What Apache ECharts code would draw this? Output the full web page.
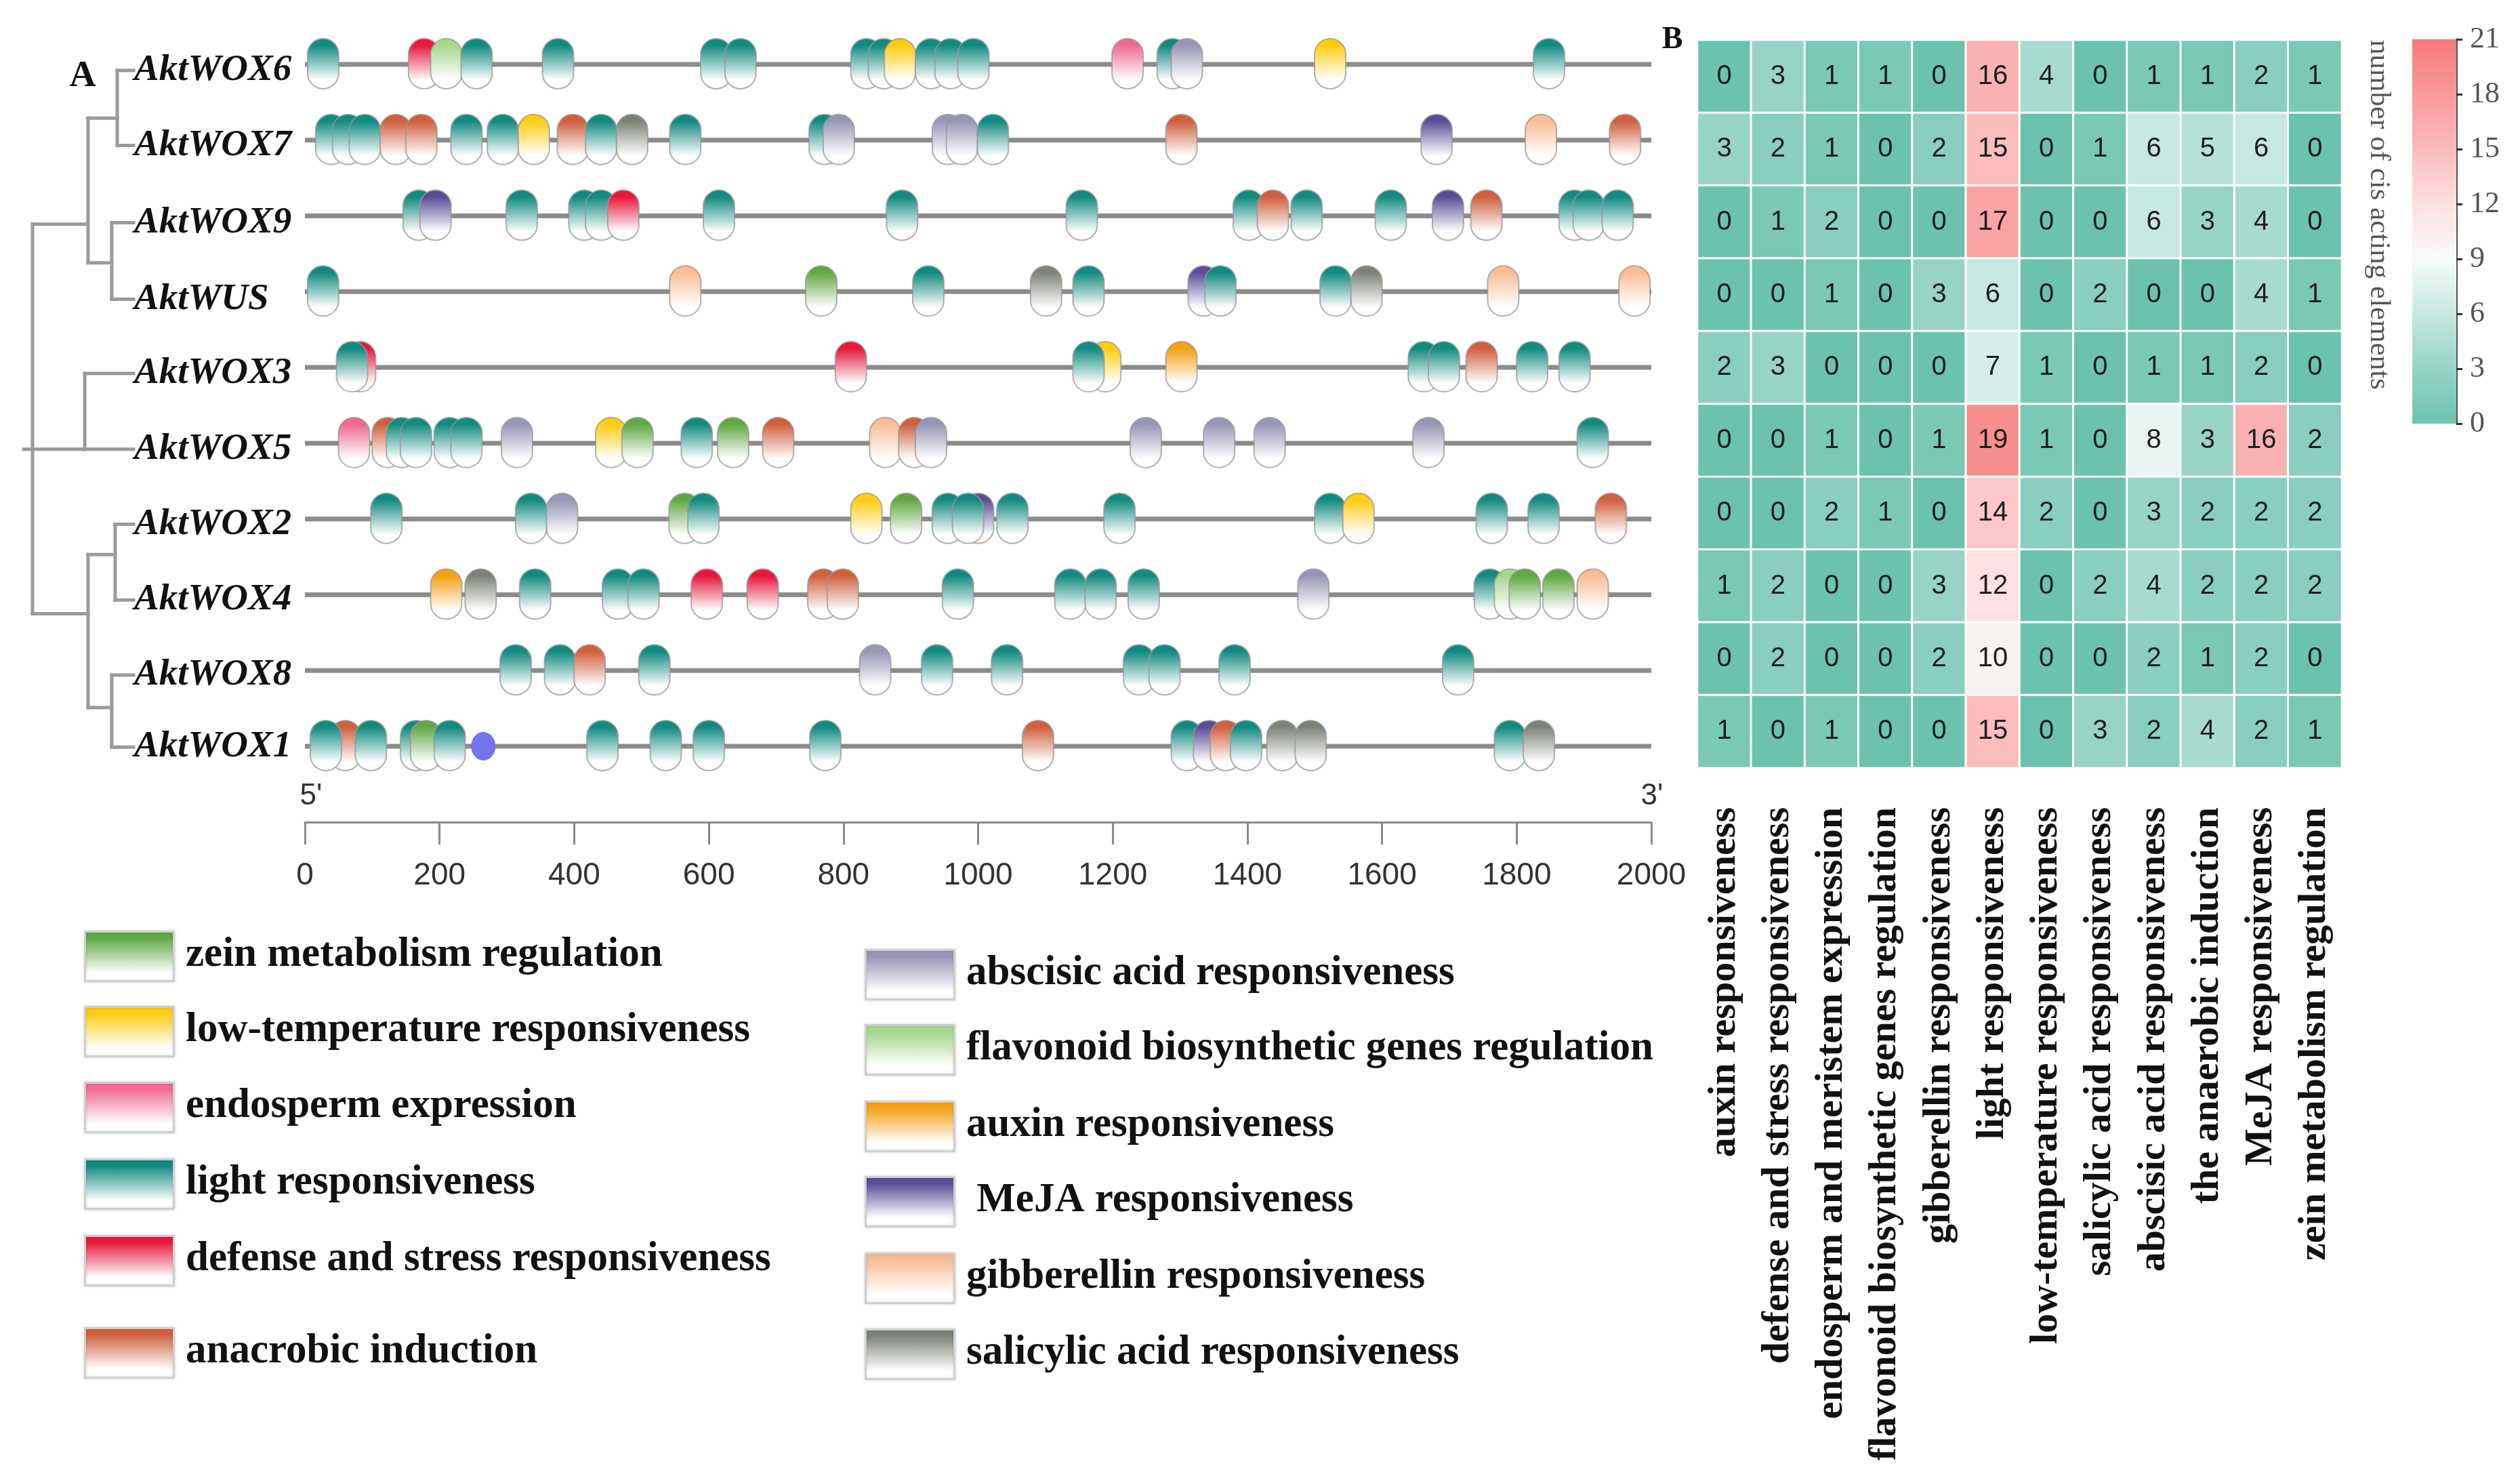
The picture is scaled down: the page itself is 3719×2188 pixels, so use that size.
<!DOCTYPE html>
<html><head><meta charset="utf-8">
<script src="https://cdn.jsdelivr.net/npm/echarts@6/dist/echarts.min.js"></script>
<style>html,body{margin:0;padding:0;background:#fff}#c{width:3719px;height:2188px}</style>
</head><body><div id="c"></div>
<script>
// ---------------- DATA ----------------
const genes = ['AktWOX6','AktWOX7','AktWOX9','AktWUS','AktWOX3','AktWOX5','AktWOX2','AktWOX4','AktWOX8','AktWOX1'];
const promoterLength = 2000;
const axisTickStep = 200;

const typeKeys  = ['zein','lowT','endo','light','def','anae','aba','flav','aux','meja','ga','sa'];
const typeNames = ['zein metabolism regulation','low-temperature responsiveness','endosperm expression','light responsiveness','defense and stress responsiveness','anacrobic induction','abscisic acid responsiveness','flavonoid biosynthetic genes regulation','auxin responsiveness',' MeJA responsiveness','gibberellin responsiveness','salicylic acid responsiveness'];
const typeColors = ['#5fa843','#ffcc12','#ef6a92','#118a7f','#e6173b','#d05f3d','#9896b6','#a6d78c','#f4a114','#5a4d97','#f8bd96','#7c8376'];

// motif positions (bp from 5') and element type
const motifsWOX6 = [[27,'light'],[177,'def'],[210,'flav'],[255,'light'],[376,'light'],[611,'light'],[647,'light'],[834,'light'],[860,'light'],[884,'lowT'],[930,'light'],[959,'light'],[993,'light'],[1222,'endo'],[1289,'light'],[1310,'aba'],[1523,'lowT'],[1848,'light']];
const motifsWOX7 = [[39,'light'],[64,'light'],[89,'light'],[135,'anae'],[173,'anae'],[240,'light'],[294,'light'],[340,'lowT'],[398,'anae'],[440,'light'],[486,'sa'],[565,'light'],[772,'light'],[793,'aba'],[955,'aba'],[976,'aba'],[1022,'light'],[1302,'anae'],[1681,'meja'],[1836,'ga'],[1961,'anae']];
const motifsWOX9 = [[169,'light'],[194,'meja'],[322,'light'],[415,'light'],[440,'light'],[473,'def'],[615,'light'],[887,'light'],[1154,'light'],[1402,'light'],[1438,'anae'],[1488,'light'],[1613,'light'],[1698,'meja'],[1755,'anae'],[1886,'light'],[1907,'light'],[1950,'light']];
const motifsWUS  = [[27,'light'],[565,'ga'],[767,'zein'],[926,'light'],[1101,'sa'],[1164,'light'],[1335,'meja'],[1360,'light'],[1531,'light'],[1577,'sa'],[1780,'ga'],[1975,'ga']];
const motifsWOX3 = [[82,'def'],[70,'light'],[811,'def'],[1189,'lowT'],[1164,'light'],[1302,'aux'],[1662,'light'],[1692,'light'],[1748,'anae'],[1823,'light'],[1886,'light']];
const motifsWOX5 = [[73,'endo'],[123,'anae'],[144,'light'],[165,'light'],[215,'light'],[240,'light'],[315,'aba'],[455,'lowT'],[494,'zein'],[582,'light'],[636,'zein'],[703,'anae'],[862,'ga'],[905,'anae'],[930,'aba'],[1249,'aba'],[1358,'aba'],[1433,'aba'],[1669,'aba'],[1913,'light']];
const motifsWOX2 = [[121,'light'],[336,'light'],[382,'aba'],[564,'zein'],[592,'light'],[834,'lowT'],[893,'zein'],[1000,'meja'],[955,'light'],[985,'light'],[1051,'light'],[1210,'light'],[1523,'light'],[1565,'lowT'],[1763,'light'],[1840,'light'],[1940,'anae']];
const motifsWOX4 = [[210,'aux'],[261,'sa'],[342,'light'],[465,'light'],[503,'light'],[597,'def'],[680,'def'],[770,'anae'],[799,'anae'],[970,'light'],[1137,'light'],[1182,'light'],[1246,'light'],[1498,'aba'],[1760,'light'],[1790,'flav'],[1812,'zein'],[1862,'zein'],[1913,'ga']];
const motifsWOX8 = [[313,'light'],[379,'light'],[423,'anae'],[519,'light'],[847,'aba'],[939,'light'],[1043,'light'],[1239,'light'],[1277,'light'],[1381,'light'],[1713,'light']];
const motifsWOX1 = [[60,'anae'],[31,'light'],[98,'light'],[165,'light'],[180,'zein'],[215,'light'],[442,'light'],[536,'light'],[600,'light'],[773,'light'],[1089,'anae'],[1310,'light'],[1343,'meja'],[1368,'anae'],[1398,'light'],[1452,'sa'],[1494,'sa'],[1790,'light'],[1833,'sa']];
const geneMotifs = [motifsWOX6,motifsWOX7,motifsWOX9,motifsWUS,motifsWOX3,motifsWOX5,motifsWOX2,motifsWOX4,motifsWOX8,motifsWOX1];
// unlabeled blue site: [gene row, bp]
const otherSites = [[9,265]];

// phylogenetic tree: [id, parent, depth(0..1), y in row units]
const treeNodes = [
  ['root',null,0.08,5.08],
  ['A','root',0.586,2.11],['A1','A',0.852,0.71],['A2','A',0.802,2.62],
  ['B','root',0.556,5.08],
  ['C','root',0.586,7.25],['C1','C',0.833,6.47],['C2','C',0.802,8.49],
  ['AktWOX6','A1',1,0.08],['AktWOX7','A1',1,1.07],['AktWOX9','A2',1,2.09],['AktWUS','A2',1,3.10],
  ['AktWOX3','B',1,4.08],['AktWOX5','B',1,5.08],['AktWOX2','C1',1,6.07],['AktWOX4','C1',1,7.07],
  ['AktWOX8','C2',1,8.06],['AktWOX1','C2',1,9.01]
];

// heatmap
const cisLabels = ['auxin responsiveness','defense and stress responsiveness','endosperm and meristem expression','flavonoid biosynthetic genes regulation','gibberellin responsiveness','light responsiveness','low-temperature responsiveness','salicylic acid responsiveness','abscisic acid responsiveness','the anaerobic induction','MeJA responsiveness','zein metabolism regulation'];
const cisCounts = [
  [0,3,1,1,0,16,4,0,1,1,2,1],
  [3,2,1,0,2,15,0,1,6,5,6,0],
  [0,1,2,0,0,17,0,0,6,3,4,0],
  [0,0,1,0,3,6,0,2,0,0,4,1],
  [2,3,0,0,0,7,1,0,1,1,2,0],
  [0,0,1,0,1,19,1,0,8,3,16,2],
  [0,0,2,1,0,14,2,0,3,2,2,2],
  [1,2,0,0,3,12,0,2,4,2,2,2],
  [0,2,0,0,2,10,0,0,2,1,2,0],
  [1,0,1,0,0,15,0,3,2,4,2,1]
];
const scaleMin = 0, scaleMax = 21, scaleStep = 3;
const scaleColors = ['#6cc3ad','#97d4c6','#c6e8e0','#f6fbfa','#fde0e0','#fbbcbc','#f89a9a','#f67a7a'];

// ---------------- BUILD ----------------
const SERIF = '"Liberation Serif","Times New Roman",serif';
const SANS = '"Liberation Sans",Arial,sans-serif';
const chart = echarts.init(document.getElementById('c'));

const motifData = [];
geneMotifs.forEach((list, r) => list.forEach(m => motifData.push([m[0], r, typeKeys.indexOf(m[1])])));
const backboneData = genes.map((g, r) => [0, r, promoterLength]);
const heatData = [];
cisCounts.forEach((row, r) => row.forEach((v, c) => heatData.push([c, r, v])));

const nodeMap = {};
treeNodes.forEach(n => nodeMap[n[0]] = {id:n[0], parent:n[1], depth:n[2], y:n[3], kids:[]});
treeNodes.forEach(n => { if (n[1]) nodeMap[n[1]].kids.push(nodeMap[n[0]]); });
const treeList = treeNodes.map(n => nodeMap[n[0]]);

function grad(c){
  return new echarts.graphic.LinearGradient(0,0,0,1,[
    {offset:0,color:c},{offset:0.14,color:c},{offset:0.82,color:'#ffffff'},{offset:1,color:'#ffffff'}]);
}

function renderBackbone(params, api){
  const a = api.coord([api.value(0), api.value(1)]);
  const b = api.coord([api.value(2), api.value(1)]);
  return {type:'rect', shape:{x:a[0], y:a[1]-3.5, width:b[0]-a[0], height:7}, style:{fill:'#8c8c8c'}};
}
function renderMotif(params, api){
  const p = api.coord([api.value(0), api.value(1)]);
  const c = typeColors[api.value(2)];
  const w = 46, h = 74;
  return {type:'rect', shape:{x:p[0]-w/2, y:p[1]-38, width:w, height:h, r:w/2},
    style:{fill:grad(c), stroke:'rgba(150,150,150,0.75)', lineWidth:2}};
}
function renderSite(params, api){
  const p = api.coord([api.value(1), api.value(0)]);
  return {type:'ellipse', shape:{cx:p[0], cy:p[1], rx:18, ry:21}, style:{fill:'#7474ee'}};
}
function renderTree(params, api){
  const n = treeList[params.dataIndex];
  const kids = [];
  const st = {stroke:'#9a9a9a', lineWidth:5, lineCap:'square'};
  const p2 = api.coord([n.depth, n.y]);
  const pd = n.parent ? nodeMap[n.parent].depth : 0;
  const p1 = api.coord([pd, n.y]);
  kids.push({type:'line', shape:{x1:p1[0],y1:p1[1],x2:p2[0],y2:p2[1]}, style:st});
  if (n.kids.length){
    const ys = n.kids.map(k=>k.y).concat([n.y]);
    const a = api.coord([n.depth, Math.min.apply(null,ys)]);
    const b = api.coord([n.depth, Math.max.apply(null,ys)]);
    kids.push({type:'line', shape:{x1:a[0],y1:a[1],x2:b[0],y2:b[1]}, style:st});
  } else {
    kids.push({type:'text', x:p2[0]+1, y:p2[1], style:{text:n.id, font:'italic bold 55px '+SERIF, fill:'#111', align:'left', verticalAlign:'middle'}});
  }
  return {type:'group', children:kids};
}
function renderScale(params, api){
  const cs = params.coordSys;
  const t = api.coord([0, api.value(2)]);
  const b = api.coord([0, api.value(1)]);
  const n = scaleColors.length - 1;
  const stops = scaleColors.map((c,i)=>({offset:1 - i/n, color:c})).reverse();
  return {type:'rect', shape:{x:cs.x, y:t[1], width:cs.width, height:b[1]-t[1]},
    style:{fill:new echarts.graphic.LinearGradient(0,0,0,1,stops)}};
}

// legend graphics
const legendTops = [[1373,1484,1596,1709,1822,1958],[1400,1511,1624,1735,1848,1960]];
const legendX = [124,1276];
const graphics = [];
typeNames.forEach((name,i)=>{
  const col = i<6?0:1, row = i%6;
  const x = legendX[col], y = legendTops[col][row];
  graphics.push({type:'rect', left:x, top:y, shape:{width:131,height:73},
    style:{fill:grad(typeColors[i]), stroke:'#cfcfcf', lineWidth:3, shadowBlur:4, shadowColor:'rgba(0,0,0,0.15)'}});
  graphics.push({type:'text', x:x+150, y:y+36, style:{text:name, font:'bold 61px '+SERIF, fill:'#111', align:'left', verticalAlign:'middle'}});
});
graphics.push({type:'text', x:122, y:113, style:{text:'A', font:'bold 54px '+SERIF, fill:'#111', align:'center', verticalAlign:'middle'}});
graphics.push({type:'text', x:2468, y:59, style:{text:'B', font:'bold 46px '+SERIF, fill:'#111', align:'center', verticalAlign:'middle'}});
graphics.push({type:'text', x:459, y:1175, style:{text:"5'", font:'44px '+SANS, fill:'#333', align:'center', verticalAlign:'middle'}});
graphics.push({type:'text', x:2438, y:1175, style:{text:"3'", font:'44px '+SANS, fill:'#333', align:'center', verticalAlign:'middle'}});
graphics.push({type:'text', x:3510, y:317, rotation:-Math.PI/2, style:{text:'number of cis acting elements', font:'43px '+SERIF, fill:'#555', align:'center', verticalAlign:'middle'}});

const option = {
  backgroundColor:'#fff',
  animation:false,
  grid:[
    {left:450, top:39.1, width:1987, height:1117.8},
    {left:35, top:39.1, width:162, height:1117.8},
    {left:2505, top:59, width:951, height:1074},
    {left:3560, top:58, width:65, height:567}
  ],
  xAxis:[
    {gridIndex:0, type:'value', min:0, max:promoterLength, interval:axisTickStep, offset:56, position:'bottom',
      axisLine:{show:true, onZero:false, lineStyle:{color:'#8a8a8a', width:3}},
      axisTick:{show:true, length:33, lineStyle:{color:'#8a8a8a', width:3}},
      axisLabel:{margin:56, fontFamily:SANS, fontSize:46, color:'#333', formatter:v=>String(v)},
      splitLine:{show:false}},
    {gridIndex:1, type:'value', min:0, max:1, show:false},
    {gridIndex:2, type:'category', data:cisLabels, position:'bottom',
      axisLine:{show:false}, axisTick:{show:false},
      axisLabel:{interval:0, rotate:90, margin:58, fontFamily:SERIF, fontWeight:'bold', fontSize:58, color:'#111'}},
    {gridIndex:3, type:'category', data:['scale'], show:false}
  ],
  yAxis:[
    {gridIndex:0, type:'value', min:-0.5, max:9.5, inverse:true, show:false},
    {gridIndex:1, type:'value', min:-0.5, max:9.5, inverse:true, show:false},
    {gridIndex:2, type:'category', data:genes, inverse:true, show:false},
    {gridIndex:3, type:'value', min:scaleMin, max:scaleMax, interval:scaleStep, position:'right',
      axisLine:{show:true, onZero:false, lineStyle:{color:'#555', width:3}},
      axisTick:{show:true, length:9, lineStyle:{color:'#333', width:3}},
      axisLabel:{margin:20, fontFamily:SERIF, fontSize:44, color:'#555'},
      splitLine:{show:false}}
  ],
  visualMap:[{type:'continuous', show:false, min:scaleMin, max:scaleMax, seriesIndex:4, dimension:2, inRange:{color:scaleColors}}],
  graphic:graphics,
  series:[
    {type:'custom', xAxisIndex:0, yAxisIndex:0, renderItem:renderBackbone, data:backboneData, clip:false, silent:true},
    {type:'custom', xAxisIndex:0, yAxisIndex:0, renderItem:renderMotif, data:motifData, clip:false, silent:true},
    {type:'custom', xAxisIndex:0, yAxisIndex:0, renderItem:renderSite, data:otherSites, clip:false, silent:true},
    {type:'custom', xAxisIndex:1, yAxisIndex:1, renderItem:renderTree, data:treeList.map(n=>[n.depth,n.y]), clip:false, silent:true},
    {type:'heatmap', xAxisIndex:2, yAxisIndex:2, data:heatData,
      itemStyle:{borderColor:'#ffffff', borderWidth:3},
      label:{show:true, formatter:p=>p.data[2], fontFamily:SANS, fontSize:40, color:'#1e1e1e'},
      emphasis:{disabled:true}},
    {type:'custom', xAxisIndex:3, yAxisIndex:3, renderItem:renderScale, data:[[0,scaleMin,scaleMax]], clip:false, silent:true}
  ]
};
chart.setOption(option);
</script></body></html>
